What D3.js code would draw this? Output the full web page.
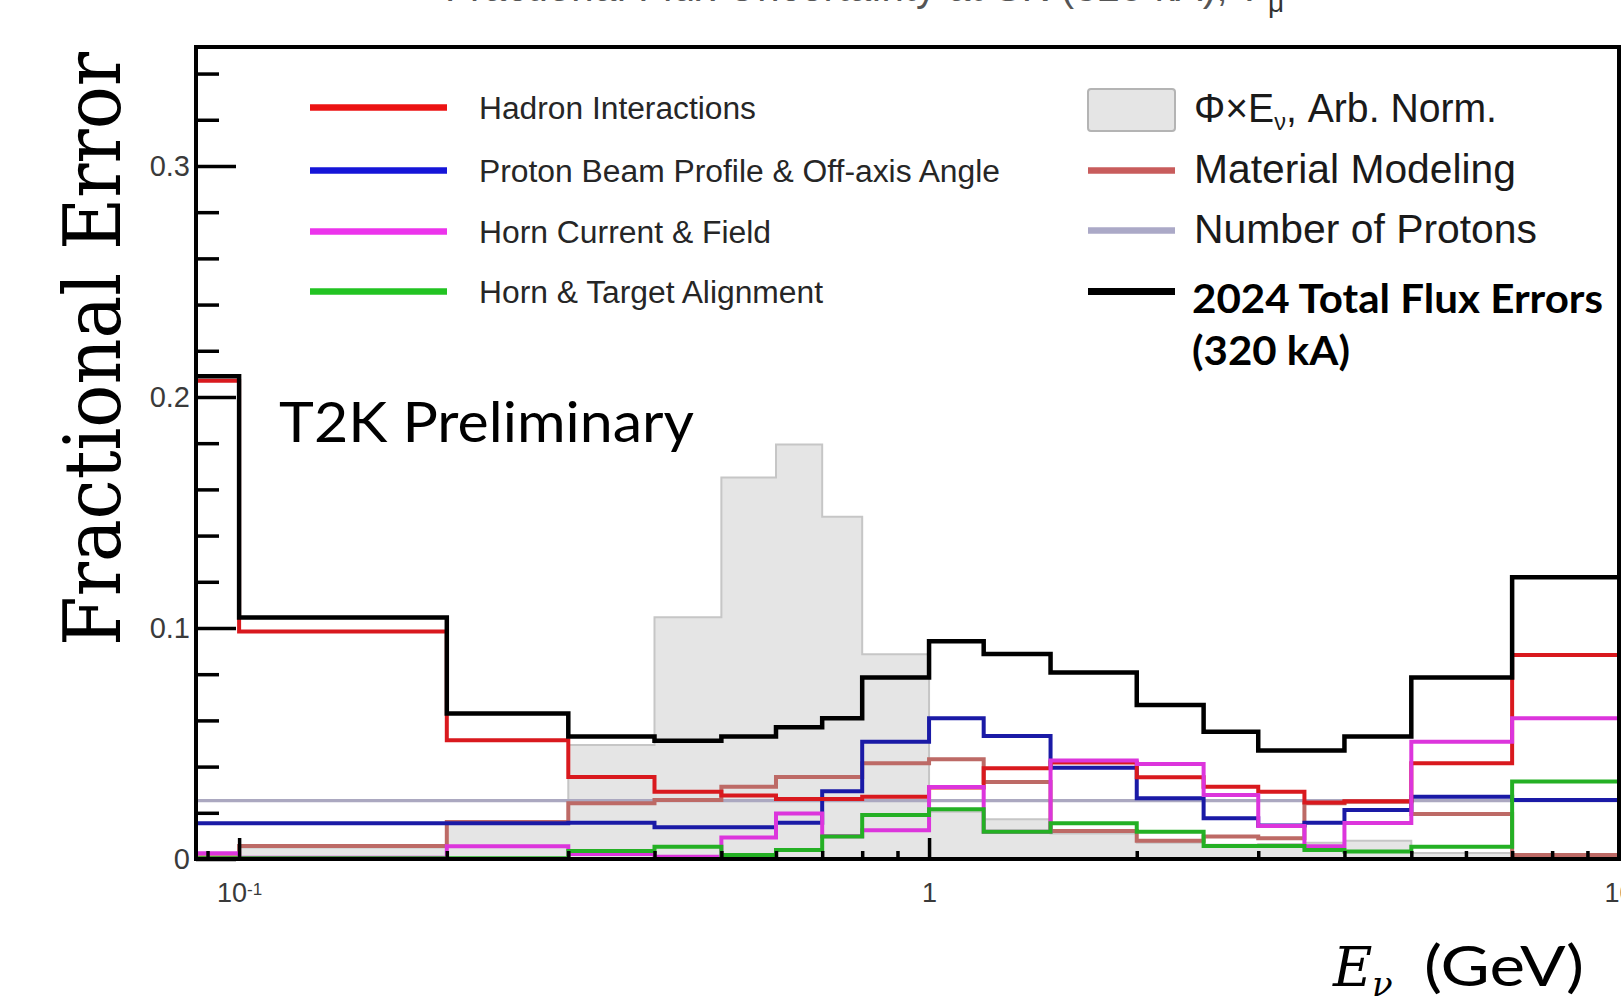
<!DOCTYPE html>
<meta charset="utf-8">
<style>
    html, body {
        margin: 0;
        padding: 0;
        background: #fff;
        overflow: hidden;
    }
    svg {
        display: block;
    }
    .axis path {
        display: none;
    }
    .axis line {
        stroke: #000;
        stroke-width: 3.5px;
    }
    .axis text {
        font-family: "Liberation Sans", Arial, sans-serif;
        fill: #3a3a3a;
    }
    .leg-small {
        font-family: "Liberation Sans Narrow", "Liberation Sans", Arial, sans-serif;
        font-size: 31px;
        fill: #262626;
    }
    .leg-big {
        font-family: "Liberation Sans", Arial, sans-serif;
        font-size: 40px;
        fill: #1a1a1a;
    }
</style>
<svg id="chart" width="1621" height="997"></svg>
<script src="https://d3js.org/d3.v7.min.js"></script>
<script>
    // neutrino energy bin edges (GeV); the first bin starts at 0
    const binEdges = [0, 0.1, 0.2, 0.3, 0.4, 0.5, 0.6, 0.7, 0.8, 1.0, 1.2, 1.5, 2.0, 2.5, 3.0, 3.5, 4.0, 5.0, 7.0, 10.0];

    // flux x energy, arbitrary normalisation (grey histogram)
    const fluxShape = [0.001, 0.005, 0.0155, 0.0494, 0.1047, 0.1651, 0.1794, 0.1481, 0.0886, 0.0205, 0.0172, 0.011, 0.0070, 0.0062, 0.0065, 0.0070, 0.0079, 0.0026, 0.0010];

    // fractional errors per bin
    const hadronInteractions = [0.207, 0.0985, 0.0514, 0.0355, 0.0291, 0.0275, 0.026, 0.026, 0.027, 0.031, 0.0393, 0.0418, 0.0354, 0.0313, 0.0291, 0.0245, 0.025, 0.0414, 0.0883];
    const protonBeam = [0.0155, 0.0155, 0.0155, 0.0157, 0.0137, 0.0137, 0.0157, 0.0293, 0.0508, 0.0609, 0.0532, 0.0395, 0.0263, 0.0176, 0.0145, 0.0157, 0.0212, 0.027, 0.0255];
    const hornCurrent = [0.0025, 0.0005, 0.0055, 0.0022, 0.001, 0.0093, 0.0197, 0.0098, 0.0124, 0.0312, 0.0118, 0.0426, 0.0411, 0.0277, 0.0143, 0.0055, 0.0156, 0.0508, 0.0609];
    const hornAlignment = [0.0003, 0.0003, 0.0003, 0.0035, 0.0053, 0.0017, 0.0039, 0.0097, 0.019, 0.0215, 0.0118, 0.0155, 0.0118, 0.0056, 0.0056, 0.0039, 0.0032, 0.0053, 0.0335];
    const materialModeling = [0.0008, 0.0056, 0.016, 0.0241, 0.0255, 0.0313, 0.0355, 0.0355, 0.0414, 0.0432, 0.0333, 0.0121, 0.0079, 0.0097, 0.009, 0.0241, 0.0248, 0.0195, 0.0017];
    const numberOfProtons = [0.0253, 0.0253, 0.0253, 0.0253, 0.0253, 0.0253, 0.0253, 0.0253, 0.0253, 0.0253, 0.0253, 0.0253, 0.0253, 0.0253, 0.0253, 0.0253, 0.0253, 0.0253, 0.0253];
    const totalError = [0.209, 0.1045, 0.063, 0.053, 0.0512, 0.053, 0.057, 0.0609, 0.0786, 0.0943, 0.0887, 0.0807, 0.0667, 0.0551, 0.047, 0.047, 0.053, 0.0786, 0.122];

    const yMajorTicks = [0, 0.1, 0.2, 0.3];
    const yMinorTicks = [0.02, 0.04, 0.06, 0.08, 0.12, 0.14, 0.16, 0.18, 0.22, 0.24, 0.26, 0.28, 0.32, 0.34];
    const xMajorTicks = [0.1, 1, 10];
    const xMinorTicks = [0.09, 0.2, 0.3, 0.4, 0.5, 0.6, 0.7, 0.8, 0.9, 2, 3, 4, 5, 6, 7, 8, 9];

    const leftLegend = ["Hadron Interactions", "Proton Beam Profile & Off-axis Angle", "Horn Current & Field", "Horn & Target Alignment"];
    const rightLegend = ["Material Modeling", "Number of Protons"];

    const svg = d3.select("#chart");

    const plot = {left: 196, right: 1619, top: 47, bottom: 859};
    const xMin = 0.0866;

    let x = d3.scaleLog()
        .domain([xMin, 10])
        .range([plot.left, plot.right]);

    let y = d3.scaleLinear()
        .domain([0, 0.3515])
        .range([plot.bottom, plot.top]);

    svg.append("clipPath")
        .attr("id", "clip")
        .append("rect")
        .attr("x", plot.left)
        .attr("y", plot.top)
        .attr("width", plot.right - plot.left)
        .attr("height", plot.bottom - plot.top);

    // histogram points: each bin value starts at its low edge
    function binPoints(values) {
        let pts = values.map((v, i) => [binEdges[i], v]);
        pts.push([binEdges[binEdges.length - 1], values[values.length - 1]]);
        return pts;
    }

    const ex = d => x(Math.max(d[0], xMin));

    const stepLine = d3.line()
        .x(ex)
        .y(d => y(d[1]))
        .curve(d3.curveStepAfter);

    const stepArea = d3.area()
        .x(ex)
        .y0(y(0))
        .y1(d => y(d[1]))
        .curve(d3.curveStepAfter);

    let dataLayer = svg.append("g").attr("clip-path", "url(#clip)");

    dataLayer.append("path")
        .attr("d", stepArea(binPoints(fluxShape)))
        .attr("fill", "#e5e5e5")
        .attr("stroke", "#c6c6c6")
        .attr("stroke-width", 2);

    // drawing order: last one ends up on top
    const series = [
        {values: numberOfProtons, color: "#aba8c0", width: 3.2},
        {values: materialModeling, color: "#bd6a66", width: 4},
        {values: protonBeam, color: "#1a1aa6", width: 4},
        {values: hadronInteractions, color: "#d9191e", width: 4},
        {values: hornCurrent, color: "#dc35dc", width: 4},
        {values: hornAlignment, color: "#24b024", width: 4},
        {values: totalError, color: "#000", width: 4.5}
    ];

    dataLayer.selectAll("path.series")
        .data(series)
        .join("path")
        .attr("class", "series")
        .attr("d", d => stepLine(binPoints(d.values)))
        .attr("fill", "none")
        .attr("stroke", d => d.color)
        .attr("stroke-width", d => d.width)
        .attr("stroke-linejoin", "miter");

    // axes with inward ticks
    svg.append("g")
        .attr("class", "axis")
        .attr("transform", `translate(${plot.left},0)`)
        .call(d3.axisLeft(y).tickValues(yMajorTicks).tickSize(-40).tickPadding(6)
            .tickFormat(d => d === 0 ? "0" : d3.format(".1f")(d)))
        .selectAll("text")
        .style("font-size", "29px");

    svg.append("g")
        .attr("class", "axis")
        .attr("transform", `translate(${plot.left},0)`)
        .call(d3.axisLeft(y).tickValues(yMinorTicks).tickSize(-23).tickFormat(""));

    let xAxis = svg.append("g")
        .attr("class", "axis")
        .attr("transform", `translate(0,${plot.bottom})`)
        .call(d3.axisBottom(x).tickValues(xMajorTicks).tickSize(-21).tickPadding(24)
            .tickFormat(d => d === 1 ? "1" : "10"));
    xAxis.selectAll("text").style("font-size", "27px");
    xAxis.selectAll(".tick text")
        .filter(d => d === 0.1)
        .append("tspan")
        .attr("dy", "-0.45em")
        .style("font-size", "17px")
        .text("-1");

    svg.append("g")
        .attr("class", "axis")
        .attr("transform", `translate(0,${plot.bottom})`)
        .call(d3.axisBottom(x).tickValues(xMinorTicks).tickSize(-8).tickFormat(""));

    // frame
    svg.append("rect")
        .attr("x", plot.left)
        .attr("y", plot.top)
        .attr("width", plot.right - plot.left)
        .attr("height", plot.bottom - plot.top)
        .attr("fill", "none")
        .attr("stroke", "#000")
        .attr("stroke-width", 4);

    // title, cut off by the top edge as in the original slide
    svg.append("text")
        .attr("x", 445)
        .attr("y", 1)
        .style("font-family", "Liberation Sans, Arial, sans-serif")
        .style("font-size", "40px")
        .attr("fill", "#555")
        .attr("textLength", 815)
        .text("Fractional Flux Uncertainty at SK (320 kA), \u03bd");
    svg.append("text")
        .attr("x", 1268)
        .attr("y", 12)
        .style("font-family", "Liberation Sans, Arial, sans-serif")
        .style("font-size", "28px")
        .attr("fill", "#333")
        .text("\u03bc");

    // y axis title
    svg.append("text")
        .attr("transform", "translate(120,349) rotate(-90)")
        .attr("text-anchor", "middle")
        .style("font-family", "DejaVu Serif, Liberation Serif, serif")
        .style("font-size", "78px")
        .attr("textLength", 594)
        .attr("lengthAdjust", "spacingAndGlyphs")
        .attr("fill", "#000")
        .text("Fractional Error");

    // x axis title
    let xt = svg.append("g").attr("fill", "#000");
    xt.append("text")
        .attr("x", 1333)
        .attr("y", 986)
        .style("font-family", "DejaVu Serif, Liberation Serif, serif")
        .style("font-style", "italic")
        .style("font-size", "54px")
        .text("E");
    xt.append("text")
        .attr("x", 1372)
        .attr("y", 996)
        .style("font-family", "DejaVu Serif, Liberation Serif, serif")
        .style("font-style", "italic")
        .style("font-size", "34px")
        .text("\u03bd");
    xt.append("text")
        .attr("x", 1424)
        .attr("y", 986)
        .style("font-family", "Lato, Open Sans, sans-serif")
        .style("font-size", "56px")
        .attr("textLength", 160)
        .attr("lengthAdjust", "spacingAndGlyphs")
        .text("(GeV)");

    // T2K Preliminary
    svg.append("text")
        .attr("x", 279)
        .attr("y", 442)
        .style("font-family", "Lato, Open Sans, sans-serif")
        .style("font-size", "56px")
        .attr("textLength", 415)
        .attr("lengthAdjust", "spacingAndGlyphs")
        .attr("fill", "#000")
        .text("T2K Preliminary");

    // left legend
    const leftColors = ["#ec1313", "#1515d8", "#ec34ec", "#22c322"];
    const leftWidths = [277, 521, 292, 344];
    const leftRowY = [107.5, 170.5, 231.5, 291.5];
    let legL = svg.append("g");
    leftLegend.forEach((name, i) => {
        legL.append("line")
            .attr("x1", 310).attr("x2", 447)
            .attr("y1", leftRowY[i]).attr("y2", leftRowY[i])
            .attr("stroke", leftColors[i])
            .attr("stroke-width", 6.5);
        legL.append("text")
            .attr("class", "leg-small")
            .attr("x", 479)
            .attr("y", leftRowY[i] + 11)
            .attr("textLength", leftWidths[i])
            .attr("lengthAdjust", "spacingAndGlyphs")
            .text(name);
    });

    // right legend
    let legR = svg.append("g");
    legR.append("rect")
        .attr("x", 1088).attr("y", 89)
        .attr("width", 87).attr("height", 42)
        .attr("rx", 3)
        .attr("fill", "#e5e5e5")
        .attr("stroke", "#b4b4b4")
        .attr("stroke-width", 2);
    let phi = legR.append("text")
        .attr("class", "leg-big")
        .attr("x", 1194)
        .attr("y", 122)
        .attr("textLength", 303)
        .attr("lengthAdjust", "spacingAndGlyphs");
    phi.append("tspan").text("\u03a6\u00d7E");
    phi.append("tspan").attr("dy", 8).style("font-size", "24px").text("\u03bd");
    phi.append("tspan").attr("dy", -8).text(", Arb. Norm.");

    const rightColors = ["#c85c5c", "#aba9c7"];
    const rightRowY = [170.5, 230.5];
    const rightWidths = [322, 343];
    rightLegend.forEach((name, i) => {
        legR.append("line")
            .attr("x1", 1088).attr("x2", 1175)
            .attr("y1", rightRowY[i]).attr("y2", rightRowY[i])
            .attr("stroke", rightColors[i])
            .attr("stroke-width", 6.5);
        legR.append("text")
            .attr("class", "leg-big")
            .attr("x", 1194)
            .attr("y", rightRowY[i] + 12)
            .attr("textLength", rightWidths[i])
            .attr("lengthAdjust", "spacingAndGlyphs")
            .text(name);
    });

    legR.append("line")
        .attr("x1", 1088).attr("x2", 1175)
        .attr("y1", 291.5).attr("y2", 291.5)
        .attr("stroke", "#000")
        .attr("stroke-width", 7);
    const boldText = ["2024 Total Flux Errors", "(320 kA)"];
    const boldWidths = [411, 158];
    boldText.forEach((t, i) => {
        legR.append("text")
            .attr("x", 1192)
            .attr("y", 313 + i * 52)
            .style("font-family", "Lato, Open Sans, sans-serif")
            .style("font-weight", 700)
            .style("font-size", "40px")
            .attr("textLength", boldWidths[i])
            .attr("lengthAdjust", "spacingAndGlyphs")
            .attr("fill", "#000")
            .text(t);
    });
</script>
